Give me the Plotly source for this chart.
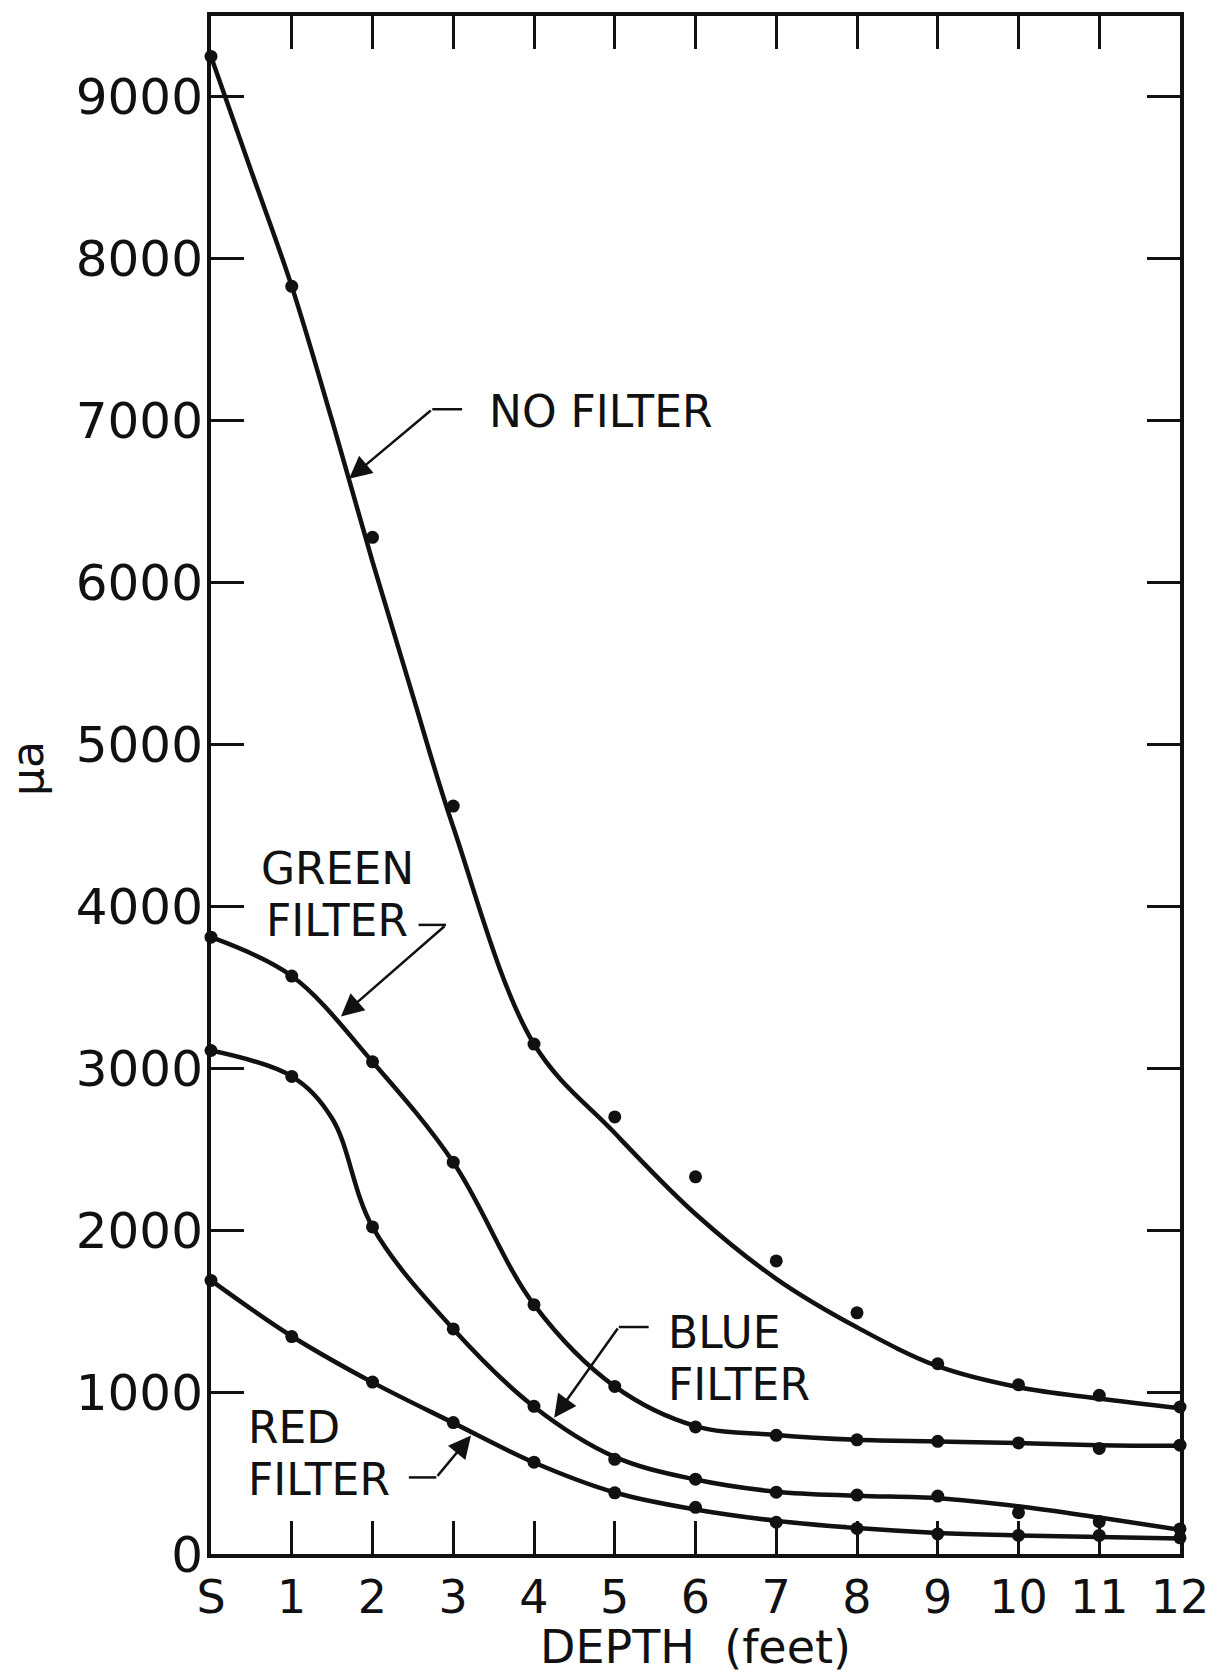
import plotly.graph_objects as go

# Depth positions (S = surface, then feet)
depth = [0, 1, 2, 3, 4, 5, 6, 7, 8, 9, 10, 11, 12]
depth_labels = ["S", "1", "2", "3", "4", "5", "6", "7", "8", "9", "10", "11", "12"]

# Measured photocell current (microamperes) at each depth
no_filter_pts = [9250, 7830, 6280, 4620, 3150, 2700, 2330, 1810, 1490, 1175, 1045, 980, 908]
green_pts = [3810, 3570, 3040, 2420, 1540, 1035, 785, 733, 705, 696, 686, 652, 672]
blue_pts = [3110, 2950, 2020, 1390, 912, 585, 462, 382, 364, 358, 255, 200, 155]
red_pts = [1690, 1343, 1062, 812, 567, 378, 288, 196, 158, 124, 115, 115, 100]

# Hand-faired smooth curves drawn through the measurements
no_filter_curve_x = [0, 0.5, 1, 1.5, 2, 2.5, 3, 4, 5, 6, 7, 8, 9, 10, 11, 12]
no_filter_curve_y = [9250, 8540, 7830, 7000, 6130, 5300, 4490, 3150, 2600, 2100, 1700, 1400, 1160, 1030, 960, 900]

green_curve_x = [0, 1, 2, 3, 4, 5, 6, 7, 8, 9, 10, 11, 12]
green_curve_y = [3810, 3570, 3040, 2420, 1540, 1035, 790, 735, 705, 695, 685, 672, 668]

blue_curve_x = [0, 1, 1.5, 2, 3, 4, 5, 6, 7, 8, 9, 10, 11, 12]
blue_curve_y = [3110, 2950, 2690, 2020, 1390, 910, 600, 460, 385, 360, 345, 295, 225, 150]

red_curve_x = [0, 1, 2, 3, 4, 5, 6, 7, 8, 9, 10, 11, 12]
red_curve_y = [1690, 1345, 1060, 810, 565, 380, 275, 205, 160, 130, 115, 105, 95]

y_ticks = [0, 1000, 2000, 3000, 4000, 5000, 6000, 7000, 8000, 9000]

FONT = "DejaVu Sans"
INK = "#111111"
FS = 50       # vertical-axis numbers
FS_X = 46     # depth labels and axis title
FS_LBL = 44   # curve labels

fig = go.Figure()

for cx, cy in [(no_filter_curve_x, no_filter_curve_y),
               (green_curve_x, green_curve_y),
               (blue_curve_x, blue_curve_y),
               (red_curve_x, red_curve_y)]:
    fig.add_trace(go.Scatter(
        x=cx, y=cy, mode="lines",
        line=dict(color=INK, width=4.5, shape="spline", smoothing=1.0),
        cliponaxis=False, showlegend=False, hoverinfo="skip",
    ))

for pts in [no_filter_pts, green_pts, blue_pts, red_pts]:
    fig.add_trace(go.Scatter(
        x=depth, y=pts, mode="markers",
        marker=dict(color=INK, size=13),
        cliponaxis=False, showlegend=False,
    ))

# Curve labels with bent leader arrows
labels = [
    # (text lines [(text, x, y)], leader segment (x0, x1, y), arrow tail (x, y), arrow tip (x, y))
    ([("NO FILTER", 3.42, 7060)], (2.74, 3.11, 7071), (2.74, 7071), (1.71, 6641)),
    ([("GREEN", 0.6, 4237), ("FILTER", 0.66, 3917)], (2.57, 2.91, 3886), (2.91, 3886), (1.61, 3320)),
    ([("BLUE", 5.63, 1371), ("FILTER", 5.63, 1051)], (5.05, 5.42, 1402), (5.05, 1402), (4.25, 842)),
    ([("RED", 0.43, 785), ("FILTER", 0.43, 465)], (2.45, 2.79, 473), (2.79, 473), (3.22, 732)),
]

annotations = []
shapes = []
for lines, seg, tail, tip in labels:
    for txt, tx, ty in lines:
        annotations.append(dict(
            x=tx, y=ty, xref="x", yref="y", text=txt, showarrow=False,
            xanchor="left", yanchor="middle", height=44, valign="middle",
            font=dict(family=FONT, size=FS_LBL, color=INK),
        ))
    shapes.append(dict(type="line", xref="x", yref="y",
                       x0=seg[0], x1=seg[1], y0=seg[2], y1=seg[2],
                       line=dict(color=INK, width=2.5)))
    annotations.append(dict(
        x=tip[0], y=tip[1], xref="x", yref="y",
        ax=tail[0], ay=tail[1], axref="x", ayref="y",
        text="", showarrow=True, arrowhead=2, arrowsize=1.8,
        arrowwidth=2.5, arrowcolor=INK,
    ))

# Rotated unit label on the vertical axis
annotations.append(dict(
    x=-0.19, y=0.511, xref="paper", yref="paper", text="μa",
    showarrow=False, textangle=-90, xanchor="center", yanchor="middle",
    font=dict(family=FONT, size=44, color=INK),
))

fig.update_layout(
    width=1221, height=1674,
    margin=dict(l=211, r=34, t=12, b=117),
    paper_bgcolor="white", plot_bgcolor="white",
    font=dict(family=FONT, size=FS, color=INK),
    annotations=annotations, shapes=shapes,
    showlegend=False,
)

fig.update_xaxes(
    range=[0, 12], tickvals=depth, ticktext=depth_labels,
    ticks="inside", ticklen=33, tickwidth=3, tickcolor=INK,
    showline=True, linewidth=4, linecolor=INK, mirror="ticks",
    showgrid=False, zeroline=False, ticklabelstandoff=0,
    tickfont=dict(family=FONT, size=FS_X, color=INK),
    title=dict(text="DEPTH\u00a0\u00a0(feet)", standoff=6,
               font=dict(family=FONT, size=FS_X, color=INK)),
)

fig.update_yaxes(
    range=[0, 9500], tickvals=y_ticks, ticktext=[str(v) for v in y_ticks],
    ticks="inside", ticklen=33, tickwidth=3, tickcolor=INK,
    showline=True, linewidth=4, linecolor=INK, mirror="ticks",
    showgrid=False, zeroline=False, ticklabelstandoff=-6,
    tickfont=dict(family=FONT, size=FS, color=INK),
)

fig.write_html("out.html")
